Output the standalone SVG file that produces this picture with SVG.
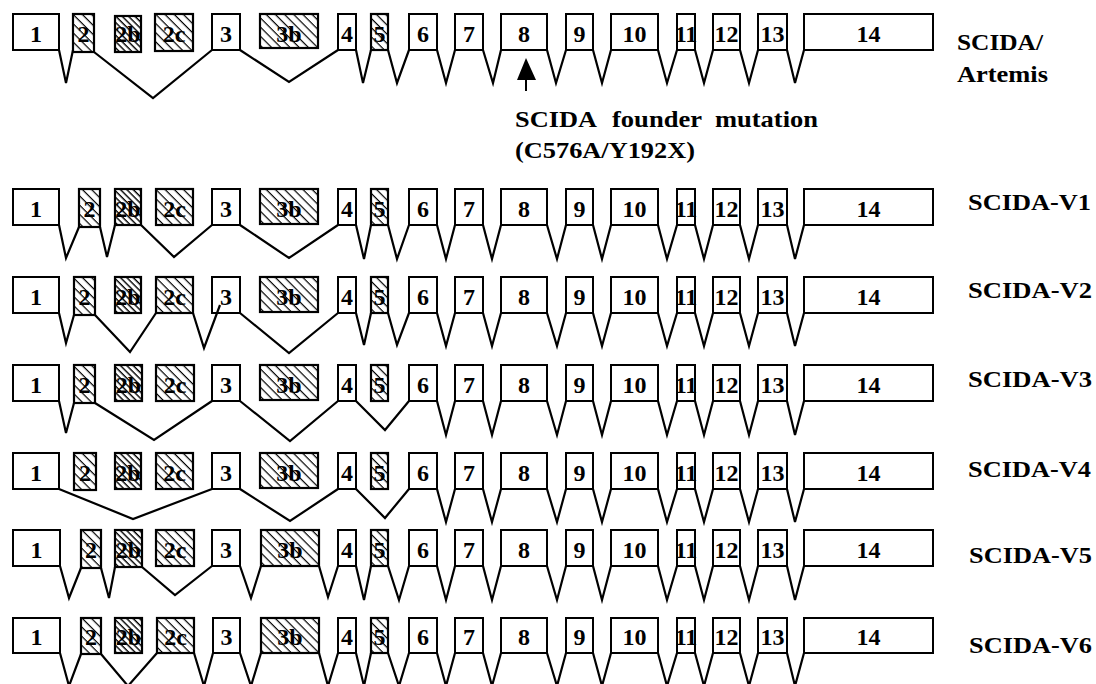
<svg xmlns="http://www.w3.org/2000/svg" width="1096" height="684" viewBox="0 0 1096 684">
<style>
.ex{fill:#fff;stroke:#000;stroke-width:2}
.hx{fill:url(#hatch);stroke:#000;stroke-width:2.2}
.hd{fill:url(#hatchd);stroke:#000;stroke-width:2.2}
.n{font-family:"Liberation Serif","Times New Roman",serif;font-weight:bold;font-size:24px;text-anchor:middle;fill:#000}
.lab{font-family:"Liberation Serif","Times New Roman",serif;font-weight:bold;font-size:24px;fill:#000}
.intr{fill:none;stroke:#000;stroke-width:2.2;stroke-linejoin:miter}
</style>
<defs>
<pattern id="hatch" patternUnits="userSpaceOnUse" width="6.5" height="6.5" patternTransform="rotate(45)"><rect width="6.5" height="6.5" fill="#fff"/><line x1="0" y1="0" x2="6.5" y2="0" stroke="#000" stroke-width="2.4"/></pattern>
<pattern id="hatchd" patternUnits="userSpaceOnUse" width="4.5" height="4.5" patternTransform="rotate(45)"><rect width="4.5" height="4.5" fill="#fff"/><line x1="0" y1="0" x2="4.5" y2="0" stroke="#000" stroke-width="2.8"/></pattern>
</defs>
<rect width="1096" height="684" fill="#fff"/>

<!-- Row 0: SCIDA/Artemis -->
<g id="row0" transform="translate(0,14)">
<g id="r0-e1"><rect class="ex" x="13" y="0" width="46" height="36"/><text class="n" x="36" y="28">1</text></g>
<g id="r0-e2"><rect class="hx" x="73" y="0" width="21" height="38"/><text class="n" x="83.5" y="28">2</text></g>
<g id="r0-e2b"><rect class="hd" x="115" y="2" width="26" height="36"/><text class="n" x="128" y="28">2b</text></g>
<g id="r0-e2c"><rect class="hx" x="155" y="0" width="38" height="37"/><text class="n" x="174" y="28">2c</text></g>
<g id="r0-e3"><rect class="ex" x="212" y="0" width="28" height="36"/><text class="n" x="226" y="28">3</text></g>
<g id="r0-e3b"><rect class="hx" x="260" y="0" width="58" height="34"/><text class="n" x="289" y="28">3b</text></g>
<g id="r0-e4"><rect class="ex" x="338" y="0" width="18" height="36"/><text class="n" x="347" y="28">4</text></g>
<g id="r0-e5"><rect class="hx" x="371" y="0" width="17" height="36"/><text class="n" x="379.5" y="28">5</text></g>
<g id="r0-e6"><rect class="ex" x="409" y="0" width="28" height="36"/><text class="n" x="423" y="28">6</text></g>
<g id="r0-e7"><rect class="ex" x="455" y="0" width="28" height="36"/><text class="n" x="469" y="28">7</text></g>
<g id="r0-e8"><rect class="ex" x="501" y="0" width="46" height="36"/><text class="n" x="524" y="28">8</text></g>
<g id="r0-e9"><rect class="ex" x="566" y="0" width="27" height="36"/><text class="n" x="579.5" y="28">9</text></g>
<g id="r0-e10"><rect class="ex" x="611" y="0" width="47" height="36"/><text class="n" x="634.5" y="28">10</text></g>
<g id="r0-e11"><rect class="ex" x="677" y="0" width="18" height="36"/><text class="n" x="686" y="28">11</text></g>
<g id="r0-e12"><rect class="ex" x="713" y="0" width="27" height="36"/><text class="n" x="726.5" y="28">12</text></g>
<g id="r0-e13"><rect class="ex" x="758" y="0" width="29" height="36"/><text class="n" x="772.5" y="28">13</text></g>
<g id="r0-e14"><rect class="ex" x="804" y="0" width="129" height="36"/><text class="n" x="868.5" y="28">14</text></g>
</g>

<!-- Row 1: V1 -->
<g id="row1" transform="translate(0,189)">
<g id="r1-e1"><rect class="ex" x="13" y="0" width="46" height="36"/><text class="n" x="36" y="28">1</text></g>
<g id="r1-e2"><rect class="hx" x="79" y="0" width="21" height="38"/><text class="n" x="89.5" y="28">2</text></g>
<g id="r1-e2b"><rect class="hd" x="115" y="0" width="26" height="36"/><text class="n" x="128" y="28">2b</text></g>
<g id="r1-e2c"><rect class="hx" x="156" y="0" width="37" height="36"/><text class="n" x="174.5" y="28">2c</text></g>
<g id="r1-e3"><rect class="ex" x="212" y="0" width="28" height="36"/><text class="n" x="226" y="28">3</text></g>
<g id="r1-e3b"><rect class="hx" x="260" y="0" width="58" height="35"/><text class="n" x="289" y="28">3b</text></g>
<g id="r1-e4"><rect class="ex" x="338" y="0" width="18" height="36"/><text class="n" x="347" y="28">4</text></g>
<g id="r1-e5"><rect class="hx" x="371" y="0" width="17" height="36"/><text class="n" x="379.5" y="28">5</text></g>
<g id="r1-e6"><rect class="ex" x="409" y="0" width="28" height="36"/><text class="n" x="423" y="28">6</text></g>
<g id="r1-e7"><rect class="ex" x="455" y="0" width="28" height="36"/><text class="n" x="469" y="28">7</text></g>
<g id="r1-e8"><rect class="ex" x="501" y="0" width="46" height="36"/><text class="n" x="524" y="28">8</text></g>
<g id="r1-e9"><rect class="ex" x="566" y="0" width="27" height="36"/><text class="n" x="579.5" y="28">9</text></g>
<g id="r1-e10"><rect class="ex" x="611" y="0" width="47" height="36"/><text class="n" x="634.5" y="28">10</text></g>
<g id="r1-e11"><rect class="ex" x="677" y="0" width="18" height="36"/><text class="n" x="686" y="28">11</text></g>
<g id="r1-e12"><rect class="ex" x="713" y="0" width="27" height="36"/><text class="n" x="726.5" y="28">12</text></g>
<g id="r1-e13"><rect class="ex" x="758" y="0" width="29" height="36"/><text class="n" x="772.5" y="28">13</text></g>
<g id="r1-e14"><rect class="ex" x="804" y="0" width="129" height="36"/><text class="n" x="868.5" y="28">14</text></g>
</g>

<!-- Row 2: V2 -->
<g id="row2" transform="translate(0,277)">
<g id="r2-e1"><rect class="ex" x="13" y="0" width="46" height="36"/><text class="n" x="36" y="28">1</text></g>
<g id="r2-e2"><rect class="hx" x="74" y="0" width="21" height="38"/><text class="n" x="84.5" y="28">2</text></g>
<g id="r2-e2b"><rect class="hd" x="115" y="0" width="26" height="36"/><text class="n" x="128" y="28">2b</text></g>
<g id="r2-e2c"><rect class="hx" x="156" y="0" width="37" height="36"/><text class="n" x="174.5" y="28">2c</text></g>
<g id="r2-e3"><rect class="ex" x="212" y="0" width="28" height="36"/><text class="n" x="226" y="28">3</text></g>
<g id="r2-e3b"><rect class="hx" x="260" y="0" width="58" height="35"/><text class="n" x="289" y="28">3b</text></g>
<g id="r2-e4"><rect class="ex" x="338" y="0" width="18" height="36"/><text class="n" x="347" y="28">4</text></g>
<g id="r2-e5"><rect class="hx" x="371" y="0" width="17" height="36"/><text class="n" x="379.5" y="28">5</text></g>
<g id="r2-e6"><rect class="ex" x="409" y="0" width="28" height="36"/><text class="n" x="423" y="28">6</text></g>
<g id="r2-e7"><rect class="ex" x="455" y="0" width="28" height="36"/><text class="n" x="469" y="28">7</text></g>
<g id="r2-e8"><rect class="ex" x="501" y="0" width="46" height="36"/><text class="n" x="524" y="28">8</text></g>
<g id="r2-e9"><rect class="ex" x="566" y="0" width="27" height="36"/><text class="n" x="579.5" y="28">9</text></g>
<g id="r2-e10"><rect class="ex" x="611" y="0" width="47" height="36"/><text class="n" x="634.5" y="28">10</text></g>
<g id="r2-e11"><rect class="ex" x="677" y="0" width="18" height="36"/><text class="n" x="686" y="28">11</text></g>
<g id="r2-e12"><rect class="ex" x="713" y="0" width="27" height="36"/><text class="n" x="726.5" y="28">12</text></g>
<g id="r2-e13"><rect class="ex" x="758" y="0" width="29" height="36"/><text class="n" x="772.5" y="28">13</text></g>
<g id="r2-e14"><rect class="ex" x="804" y="0" width="129" height="36"/><text class="n" x="868.5" y="28">14</text></g>
</g>

<!-- Row 3: V3 -->
<g id="row3" transform="translate(0,365)">
<g id="r3-e1"><rect class="ex" x="13" y="0" width="46" height="36"/><text class="n" x="36" y="28">1</text></g>
<g id="r3-e2"><rect class="hx" x="74" y="0" width="21" height="38"/><text class="n" x="84.5" y="28">2</text></g>
<g id="r3-e2b"><rect class="hd" x="115" y="0" width="27" height="36"/><text class="n" x="128.5" y="28">2b</text></g>
<g id="r3-e2c"><rect class="hx" x="156" y="0" width="38" height="36"/><text class="n" x="175" y="28">2c</text></g>
<g id="r3-e3"><rect class="ex" x="212" y="0" width="28" height="36"/><text class="n" x="226" y="28">3</text></g>
<g id="r3-e3b"><rect class="hx" x="260" y="0" width="58" height="35"/><text class="n" x="289" y="28">3b</text></g>
<g id="r3-e4"><rect class="ex" x="338" y="0" width="18" height="36"/><text class="n" x="347" y="28">4</text></g>
<g id="r3-e5"><rect class="hx" x="371" y="0" width="17" height="36"/><text class="n" x="379.5" y="28">5</text></g>
<g id="r3-e6"><rect class="ex" x="409" y="0" width="28" height="36"/><text class="n" x="423" y="28">6</text></g>
<g id="r3-e7"><rect class="ex" x="455" y="0" width="28" height="36"/><text class="n" x="469" y="28">7</text></g>
<g id="r3-e8"><rect class="ex" x="501" y="0" width="46" height="36"/><text class="n" x="524" y="28">8</text></g>
<g id="r3-e9"><rect class="ex" x="566" y="0" width="27" height="36"/><text class="n" x="579.5" y="28">9</text></g>
<g id="r3-e10"><rect class="ex" x="611" y="0" width="47" height="36"/><text class="n" x="634.5" y="28">10</text></g>
<g id="r3-e11"><rect class="ex" x="677" y="0" width="18" height="36"/><text class="n" x="686" y="28">11</text></g>
<g id="r3-e12"><rect class="ex" x="713" y="0" width="27" height="36"/><text class="n" x="726.5" y="28">12</text></g>
<g id="r3-e13"><rect class="ex" x="758" y="0" width="29" height="36"/><text class="n" x="772.5" y="28">13</text></g>
<g id="r3-e14"><rect class="ex" x="804" y="0" width="129" height="36"/><text class="n" x="868.5" y="28">14</text></g>
</g>

<!-- Row 4: V4 -->
<g id="row4" transform="translate(0,453)">
<g id="r4-e1"><rect class="ex" x="13" y="0" width="46" height="36"/><text class="n" x="36" y="28">1</text></g>
<g id="r4-e2"><rect class="hx" x="74" y="0" width="22" height="37"/><text class="n" x="85" y="28">2</text></g>
<g id="r4-e2b"><rect class="hd" x="115" y="0" width="26" height="36"/><text class="n" x="128" y="28">2b</text></g>
<g id="r4-e2c"><rect class="hx" x="156" y="0" width="37" height="36"/><text class="n" x="174.5" y="28">2c</text></g>
<g id="r4-e3"><rect class="ex" x="212" y="0" width="28" height="36"/><text class="n" x="226" y="28">3</text></g>
<g id="r4-e3b"><rect class="hx" x="260" y="0" width="58" height="35"/><text class="n" x="289" y="28">3b</text></g>
<g id="r4-e4"><rect class="ex" x="338" y="0" width="18" height="36"/><text class="n" x="347" y="28">4</text></g>
<g id="r4-e5"><rect class="hx" x="371" y="0" width="17" height="36"/><text class="n" x="379.5" y="28">5</text></g>
<g id="r4-e6"><rect class="ex" x="409" y="0" width="28" height="36"/><text class="n" x="423" y="28">6</text></g>
<g id="r4-e7"><rect class="ex" x="455" y="0" width="28" height="36"/><text class="n" x="469" y="28">7</text></g>
<g id="r4-e8"><rect class="ex" x="501" y="0" width="46" height="36"/><text class="n" x="524" y="28">8</text></g>
<g id="r4-e9"><rect class="ex" x="566" y="0" width="27" height="36"/><text class="n" x="579.5" y="28">9</text></g>
<g id="r4-e10"><rect class="ex" x="611" y="0" width="47" height="36"/><text class="n" x="634.5" y="28">10</text></g>
<g id="r4-e11"><rect class="ex" x="677" y="0" width="18" height="36"/><text class="n" x="686" y="28">11</text></g>
<g id="r4-e12"><rect class="ex" x="713" y="0" width="27" height="36"/><text class="n" x="726.5" y="28">12</text></g>
<g id="r4-e13"><rect class="ex" x="758" y="0" width="29" height="36"/><text class="n" x="772.5" y="28">13</text></g>
<g id="r4-e14"><rect class="ex" x="804" y="0" width="129" height="36"/><text class="n" x="868.5" y="28">14</text></g>
</g>

<!-- Row 5: V5 -->
<g id="row5" transform="translate(0,530)">
<g id="r5-e1"><rect class="ex" x="13" y="0" width="47" height="36"/><text class="n" x="36.5" y="28">1</text></g>
<g id="r5-e2"><rect class="hx" x="81" y="0" width="20" height="38"/><text class="n" x="91" y="28">2</text></g>
<g id="r5-e2b"><rect class="hd" x="115" y="0" width="27" height="37"/><text class="n" x="128.5" y="28">2b</text></g>
<g id="r5-e2c"><rect class="hx" x="156" y="0" width="38" height="36"/><text class="n" x="175" y="28">2c</text></g>
<g id="r5-e3"><rect class="ex" x="212" y="0" width="28" height="36"/><text class="n" x="226" y="28">3</text></g>
<g id="r5-e3b"><rect class="hx" x="261" y="0" width="58" height="36"/><text class="n" x="290" y="28">3b</text></g>
<g id="r5-e4"><rect class="ex" x="338" y="0" width="18" height="36"/><text class="n" x="347" y="28">4</text></g>
<g id="r5-e5"><rect class="hx" x="371" y="0" width="17" height="36"/><text class="n" x="379.5" y="28">5</text></g>
<g id="r5-e6"><rect class="ex" x="409" y="0" width="28" height="36"/><text class="n" x="423" y="28">6</text></g>
<g id="r5-e7"><rect class="ex" x="455" y="0" width="28" height="36"/><text class="n" x="469" y="28">7</text></g>
<g id="r5-e8"><rect class="ex" x="501" y="0" width="46" height="36"/><text class="n" x="524" y="28">8</text></g>
<g id="r5-e9"><rect class="ex" x="566" y="0" width="27" height="36"/><text class="n" x="579.5" y="28">9</text></g>
<g id="r5-e10"><rect class="ex" x="611" y="0" width="47" height="36"/><text class="n" x="634.5" y="28">10</text></g>
<g id="r5-e11"><rect class="ex" x="677" y="0" width="18" height="36"/><text class="n" x="686" y="28">11</text></g>
<g id="r5-e12"><rect class="ex" x="713" y="0" width="27" height="36"/><text class="n" x="726.5" y="28">12</text></g>
<g id="r5-e13"><rect class="ex" x="758" y="0" width="29" height="36"/><text class="n" x="772.5" y="28">13</text></g>
<g id="r5-e14"><rect class="ex" x="804" y="0" width="129" height="36"/><text class="n" x="868.5" y="28">14</text></g>
</g>

<!-- Row 6: V6 -->
<g id="row6" transform="translate(0,618)">
<g id="r6-e1"><rect class="ex" x="13" y="0" width="47" height="35"/><text class="n" x="36.5" y="27">1</text></g>
<g id="r6-e2"><rect class="hx" x="81" y="0" width="20" height="36"/><text class="n" x="91" y="27">2</text></g>
<g id="r6-e2b"><rect class="hd" x="115" y="0" width="27" height="35"/><text class="n" x="128.5" y="27">2b</text></g>
<g id="r6-e2c"><rect class="hx" x="157" y="0" width="37" height="35"/><text class="n" x="175.5" y="27">2c</text></g>
<g id="r6-e3"><rect class="ex" x="213" y="0" width="27" height="35"/><text class="n" x="226.5" y="27">3</text></g>
<g id="r6-e3b"><rect class="hx" x="261" y="0" width="58" height="35"/><text class="n" x="290" y="27">3b</text></g>
<g id="r6-e4"><rect class="ex" x="338" y="0" width="18" height="35"/><text class="n" x="347" y="27">4</text></g>
<g id="r6-e5"><rect class="hx" x="371" y="0" width="17" height="35"/><text class="n" x="379.5" y="27">5</text></g>
<g id="r6-e6"><rect class="ex" x="409" y="0" width="28" height="35"/><text class="n" x="423" y="27">6</text></g>
<g id="r6-e7"><rect class="ex" x="455" y="0" width="28" height="35"/><text class="n" x="469" y="27">7</text></g>
<g id="r6-e8"><rect class="ex" x="501" y="0" width="46" height="35"/><text class="n" x="524" y="27">8</text></g>
<g id="r6-e9"><rect class="ex" x="566" y="0" width="27" height="35"/><text class="n" x="579.5" y="27">9</text></g>
<g id="r6-e10"><rect class="ex" x="611" y="0" width="47" height="35"/><text class="n" x="634.5" y="27">10</text></g>
<g id="r6-e11"><rect class="ex" x="677" y="0" width="18" height="35"/><text class="n" x="686" y="27">11</text></g>
<g id="r6-e12"><rect class="ex" x="713" y="0" width="27" height="35"/><text class="n" x="726.5" y="27">12</text></g>
<g id="r6-e13"><rect class="ex" x="758" y="0" width="29" height="35"/><text class="n" x="772.5" y="27">13</text></g>
<g id="r6-e14"><rect class="ex" x="804" y="0" width="129" height="35"/><text class="n" x="868.5" y="27">14</text></g>
</g>

<!-- Splicing connectors -->
<g id="connectors">
<g id="c-row0" transform="translate(0,14)">
<path class="intr" d="M59,36 L66,69 L73,36 M94,38 L153,84 L212,36 M240,36 L289,68 L338,36 M356,36 L363,69 L371,36 M388,36 L397,69 L409,36"/>
<path class="intr" d="M437,36 L446,69 L455,36 M483,36 L493,69 L501,36 M547,36 L556,69 L566,36 M593,36 L602,69 L611,36 M658,36 L667,69 L677,36 M695,36 L704,69 L713,36 M740,36 L749,69 L758,36 M787,36 L795,69 L804,36"/>
</g>
<g id="c-row1" transform="translate(0,189)">
<path class="intr" d="M59,36 L66,69 L79,38 M100,38 L107,68 L115,36 M141,36 L174,68 L212,36 M240,36 L289,69 L338,36 M356,36 L364,70 L371,36 M388,36 L397,70 L409,36"/>
<path class="intr" d="M437,36 L446,70 L455,36 M483,36 L492,70 L501,36 M547,36 L557,70 L566,36 M593,36 L602,70 L611,36 M658,36 L667,70 L677,36 M695,36 L704,70 L713,36 M740,36 L749,70 L758,36 M787,36 L795,70 L804,36"/>
</g>
<g id="c-row2" transform="translate(0,277)">
<path class="intr" d="M59,36 L66,66 L74,38 M95,38 L130,75 L156,36 M193,36 L204,71 L220,28 M240,36 L289,76 L338,36 M356,36 L364,68 L371,36 M388,36 L397,68 L409,36"/>
<path class="intr" d="M437,36 L446,69 L455,36 M483,36 L492,69 L501,36 M547,36 L557,69 L566,36 M593,36 L602,69 L611,36 M658,36 L667,69 L677,36 M695,36 L704,69 L713,36 M740,36 L749,69 L758,36 M787,36 L795,69 L804,36"/>
</g>
<g id="c-row3" transform="translate(0,365)">
<path class="intr" d="M59,36 L66,68 L74,38 M95,38 L154,75 L212,36 M240,36 L290,76 L338,36 M356,36 L385,65 L409,36"/>
<path class="intr" d="M437,36 L446,70 L455,36 M483,36 L492,70 L501,36 M547,36 L557,70 L566,36 M593,36 L602,70 L611,36 M658,36 L667,70 L677,36 M695,36 L704,70 L713,36 M740,36 L749,70 L758,36 M787,36 L795,70 L804,36"/>
</g>
<g id="c-row4" transform="translate(0,453)">
<path class="intr" d="M59,36 L133,66 L212,36 M240,36 L290,68 L338,36 M356,36 L385,65 L409,36"/>
<path class="intr" d="M437,36 L446,69 L455,36 M483,36 L492,69 L501,36 M547,36 L557,69 L566,36 M593,36 L602,69 L611,36 M658,36 L667,69 L677,36 M695,36 L704,69 L713,36 M740,36 L749,69 L758,36 M787,36 L795,69 L804,36"/>
</g>
<g id="c-row5" transform="translate(0,530)">
<path class="intr" d="M60,36 L69,68 L81,38 M101,38 L109,68 L115,37 M142,37 L175,65 L212,36 M240,36 L251,68 L261,36 M319,36 L328,67 L338,36 M356,36 L364,70 L371,36 M388,36 L399,70 L409,36"/>
<path class="intr" d="M437,36 L446,70 L455,36 M483,36 L492,70 L501,36 M547,36 L557,70 L566,36 M593,36 L602,70 L611,36 M658,36 L667,70 L677,36 M695,36 L704,70 L713,36 M740,36 L749,70 L758,36 M787,36 L795,70 L804,36"/>
</g>
<g id="c-row6" transform="translate(0,618)">
<path class="intr" d="M60,35 L69,68 L81,36 M101,36 L128,68 L157,35 M194,35 L204,68 L213,35 M240,35 L251,68 L261,35 M319,35 L328,68 L338,35 M356,35 L364,68 L371,35 M388,35 L399,68 L409,35"/>
<path class="intr" d="M437,35 L446,68 L455,35 M483,35 L492,68 L501,35 M547,35 L557,68 L566,35 M593,35 L602,68 L611,35 M658,35 L667,68 L677,35 M695,35 L704,68 L713,35 M740,35 L749,68 L758,35 M787,35 L795,68 L804,35"/>
</g>
</g>

<!-- Mutation annotation -->
<g id="mutation">
<line x1="526" y1="78" x2="526" y2="91" stroke="#000" stroke-width="2"/>
<polygon points="526,58 517,80 536,80" fill="#000"/>
<text class="lab"><tspan x="515" y="127" textLength="82" lengthAdjust="spacingAndGlyphs">SCIDA</tspan><tspan x="612" y="127" textLength="90" lengthAdjust="spacingAndGlyphs">founder</tspan><tspan x="715" y="127" textLength="103" lengthAdjust="spacingAndGlyphs">mutation</tspan></text>
<text class="lab" x="515" y="158" textLength="180" lengthAdjust="spacingAndGlyphs">(C576A/Y192X)</text>
</g>

<!-- Row labels -->
<g id="labels">
<text class="lab" x="957" y="50" textLength="86" lengthAdjust="spacingAndGlyphs">SCIDA/</text>
<text class="lab" x="957" y="82" textLength="91" lengthAdjust="spacingAndGlyphs">Artemis</text>
<text class="lab" x="968" y="210" textLength="123" lengthAdjust="spacingAndGlyphs">SCIDA-V1</text>
<text class="lab" x="968" y="298" textLength="124" lengthAdjust="spacingAndGlyphs">SCIDA-V2</text>
<text class="lab" x="968" y="387" textLength="124" lengthAdjust="spacingAndGlyphs">SCIDA-V3</text>
<text class="lab" x="968" y="477" textLength="123" lengthAdjust="spacingAndGlyphs">SCIDA-V4</text>
<text class="lab" x="969" y="563" textLength="123" lengthAdjust="spacingAndGlyphs">SCIDA-V5</text>
<text class="lab" x="969" y="653" textLength="123" lengthAdjust="spacingAndGlyphs">SCIDA-V6</text>
</g>
</svg>
